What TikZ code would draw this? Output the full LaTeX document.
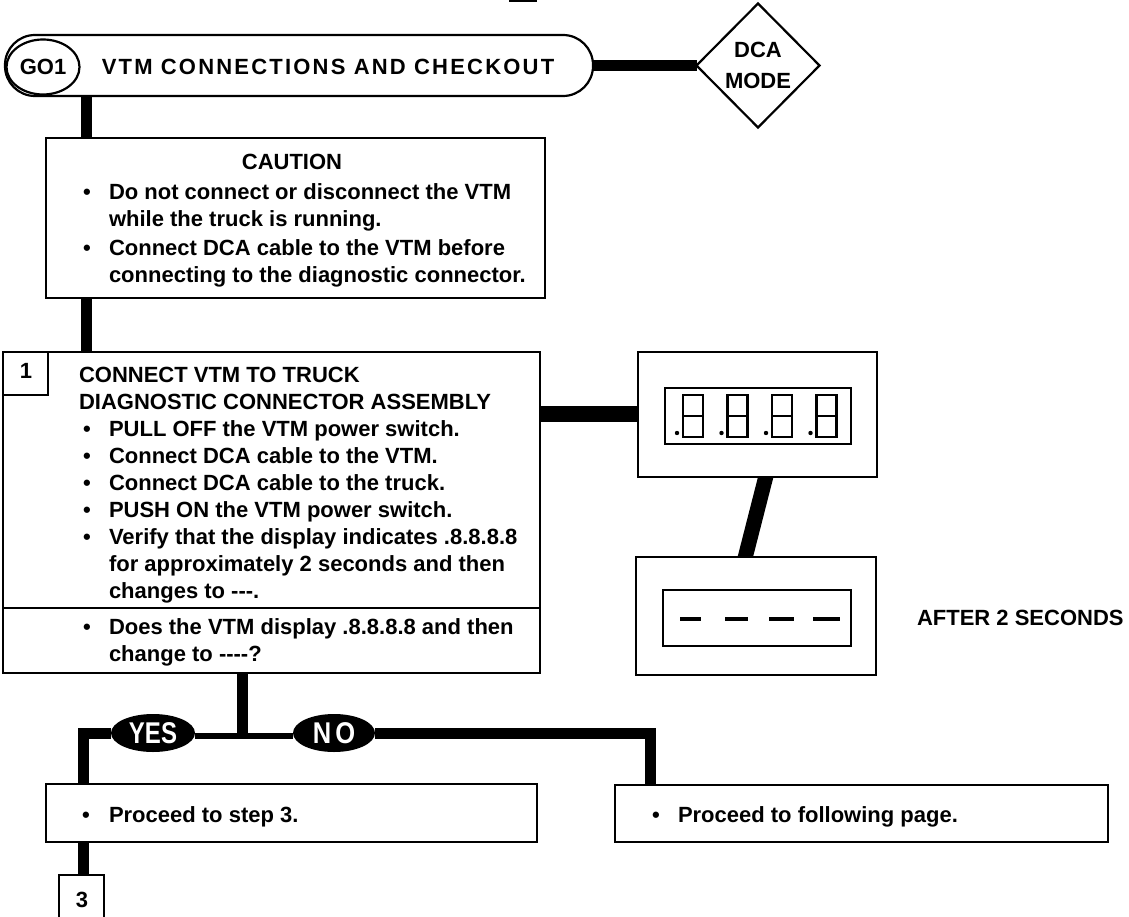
\documentclass[tikz,border=0pt]{standalone}
\usepackage{fontspec}
\setmainfont{Liberation Sans}
\usetikzlibrary{shapes.geometric,backgrounds}
\begin{document}
\begin{tikzpicture}[x=1pt,y=-1pt,
  every node/.style={font=\fontsize{22}{27}\selectfont\bfseries, inner sep=0pt, outer sep=0pt},
  box/.style={draw, line width=2.2pt, fill=white},
  conn/.style={line width=11pt, line join=miter},
  thinconn/.style={line width=6pt},
  dispconn/.style={line width=16pt},
  ln/.style={anchor=base west},
  seg/.style={line width=2.6pt},
  dashseg/.style={line width=3.5pt}]
\useasboundingbox (0,0) rectangle (1129,917);
\fill (509,0) rectangle (537,2);
% title
\node[box, rounded corners=30pt, minimum width=588pt, minimum height=61pt, anchor=north west] (title) at (5,35) {};
\node[box, ellipse, minimum width=73pt, minimum height=55pt] (go1) at (43,67) {GO1};
\node[anchor=base, font=\fontsize{22}{27}\selectfont\bfseries\addfontfeature{LetterSpace=10}] (ttl) at (328,75) {VTM CONNECTIONS AND CHECKOUT};
\node[box, diamond, minimum width=123pt, minimum height=124pt, align=center, font=\fontsize{22}{31}\selectfont\bfseries] (dca) at (758,65.5) {DCA\\MODE};
% caution
\node[box, minimum width=499pt, minimum height=160pt, anchor=north west] (caution) at (46,138) {};
\node[anchor=base] (cautT) at (292,170) {CAUTION};
\node[ln] (cb1) at (83,200) {•};
\node[ln] (ct1) at (109,200) {Do not connect or disconnect the VTM};
\node[ln] (ct2) at (109,227) {while the truck is running.};
\node[ln] (cb2) at (83,255) {•};
\node[ln] (ct3) at (109,255) {Connect DCA cable to the VTM before};
\node[ln] (ct4) at (109,282) {connecting to the diagnostic connector.};
% step 1
\node[box, minimum width=537pt, minimum height=321pt, anchor=north west] (step) at (3,352) {};
\node[box, minimum width=45pt, minimum height=43pt, anchor=north west] (n1) at (3,352) {};
\node[anchor=base] (n1t) at (26,378) {1};
\coordinate (dv) at (0,608);
\draw[line width=2.2pt] (step.west |- dv) -- (step.east |- dv);
\node[ln] (s1) at (79,382) {CONNECT VTM TO TRUCK};
\node[ln] (s2) at (79,409) {DIAGNOSTIC CONNECTOR ASSEMBLY};
\foreach \yy/\tt [count=\i] in {436/PULL OFF the VTM power switch.,463/Connect DCA cable to the VTM.,490/Connect DCA cable to the truck.,517/PUSH ON the VTM power switch.,544/Verify that the display indicates .8.8.8.8,634/Does the VTM display .8.8.8.8 and then}{
  \node[ln] (sb\i) at (83,\yy) {•};
  \node[ln] (st\i) at (109,\yy) {\tt};
}
\node[ln] (sx1) at (109,571) {for approximately 2 seconds and then};
\node[ln] (sx2) at (109,598) {changes to -{}-{}-.};
\node[ln] (sx3) at (109,661) {change to -{}-{}-{}-?};
% displays
\node[box, minimum width=239pt, minimum height=125pt, anchor=north west] (d1) at (638,352) {};
\node[draw, line width=2.2pt, minimum width=186pt, minimum height=56pt, anchor=north west] (sc1) at (665,388) {};
\foreach \i in {0,1,2,3}{
  \pgfmathsetmacro{\xo}{683+44.5*\i}
  \draw[seg] (\xo,395) rectangle ({\xo+20},437);
  \draw[seg] (\xo,416) -- ({\xo+20},416);
  \fill ({\xo-6},433) circle (2.2pt);
}
\node[box, minimum width=240pt, minimum height=118pt, anchor=north west] (d2) at (636,557) {};
\node[draw, line width=2.2pt, minimum width=188pt, minimum height=56pt, anchor=north west] (sc2) at (663,590) {};
\foreach \a/\b in {680/701,725/748,769/794,813/840}{
  \draw[dashseg] (\a,619) -- (\b,619);
}
\node[ln] (after) at (917,625) {AFTER 2 SECONDS};
% decision
\coordinate (jx) at (242,740);
\node[ellipse, fill=black, minimum width=84pt, minimum height=38pt] (yes) at (153,733) {\textcolor{white}{\fontsize{30}{30}\selectfont\scalebox{0.8}[1]{YES}}};
\node[ellipse, fill=black, minimum width=82pt, minimum height=38pt] (no) at (334,733) {\textcolor{white}{\fontsize{30}{30}\selectfont\scalebox{0.85}[1]{N\,O}}};
\node[box, minimum width=491pt, minimum height=58pt, anchor=north west] (p3) at (46,784) {};
\node[ln] (p3b) at (82,822) {•};
\node[ln] (p3t) at (109,822) {Proceed to step 3.};
\node[box, minimum width=493pt, minimum height=57pt, anchor=north west] (pf) at (615,785) {};
\node[ln] (pfb) at (652,822) {•};
\node[ln] (pft) at (678,822) {Proceed to following page.};
\node[minimum width=45pt, minimum height=50pt, anchor=north west] (b3) at (59,875) {};
\draw[line width=2.2pt] (b3.south west) -- (b3.north west) -- (b3.north east) -- (b3.south east);
\node[anchor=base] (b3t) at (82,907) {3};
\coordinate (lx) at (83,0);
\coordinate (rx) at (650,0);
\coordinate (sx) at (86,0);
\coordinate (dx1) at (767,0);
\coordinate (dx2) at (744,0);
\begin{scope}[on background layer]
  \draw[conn] (title.east) -- (dca.west);
  \draw[conn] (sx |- title.south) -- (sx |- caution.north);
  \draw[conn] (sx |- caution.south) -- (sx |- step.north);
  \draw[dispconn] ([yshift=-62pt]step.north east) -- ([yshift=-62pt]d1.north west);
  \draw[line width=15pt] ([yshift=5pt]d1.south -| dx1) -- ([yshift=-5pt]d2.north -| dx2);
  \draw[conn] (step.south -| jx) -- ([yshift=5.5pt]jx);
  \draw[thinconn] ([yshift=-3pt]yes.east) -- ([yshift=-3pt]no.west);
  \draw[conn] (yes.west) -| (p3.north -| lx);
  \draw[conn] (no.east) -| (pf.north -| rx);
  \draw[conn] (p3.south -| lx) -- (b3.north -| lx);
\end{scope}
\end{tikzpicture}
\end{document}
